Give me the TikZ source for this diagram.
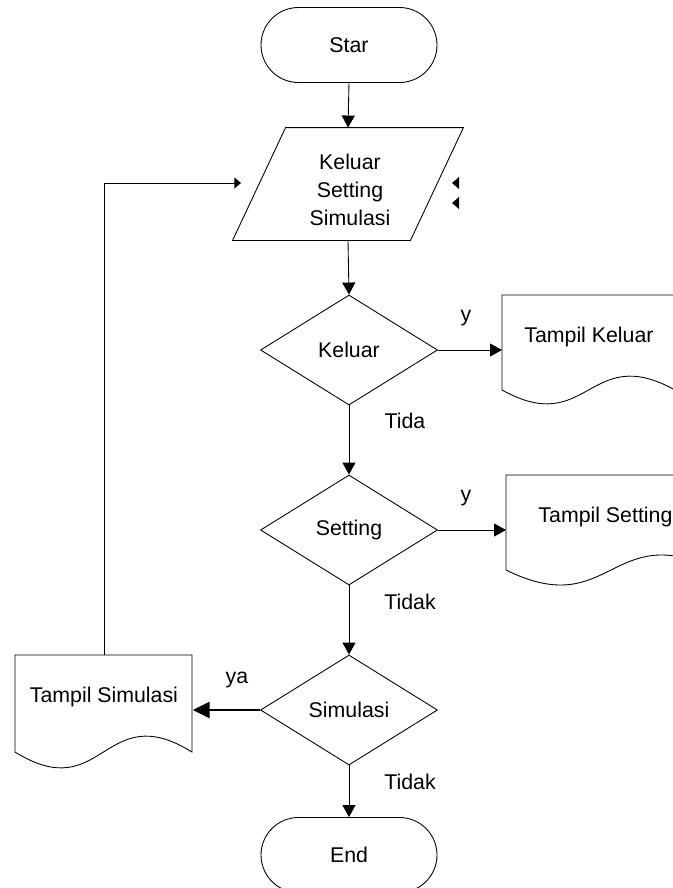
\documentclass[tikz,border=0pt]{standalone}
\usepackage{fontspec}
\setmainfont{Liberation Sans}
\usetikzlibrary{shapes.geometric,shapes.misc,arrows.meta}
\begin{document}
\begin{tikzpicture}[x=0.03cm,y=-0.03cm,
  font=\fontsize{18.2}{24}\selectfont,
  line width=0.75pt,
  terminal/.style={draw, rounded rectangle, minimum width=5.28cm, minimum height=2.25cm, inner sep=0pt},
  decision/.style={draw, diamond, minimum width=5.31cm, minimum height=3.3cm, inner sep=0pt},
  docbox/.style={inner sep=0pt, anchor=north west, minimum height=2.52cm},
  flow/.style={-{Triangle[length=0.36cm,width=0.39cm]}},
  thickflow/.style={line width=2pt, -{Triangle[length=0.5cm,width=0.48cm]}},
  smallflow/.style={-{Triangle[length=0.2cm,width=0.33cm]}},
  lbl/.style={inner sep=0pt}]
\useasboundingbox (0,0) rectangle (673,888);
\clip (0,0) rectangle (673,888);

% terminals
\node[terminal] (star) at (349,45) {Star};
\node[terminal] (end) at (349,855) {End};

% input / output parallelogram
\node[inner sep=0pt, minimum width=6.9cm, minimum height=3.36cm] (io) at (348,184) {};
\draw ([xshift=1.59cm]io.north west) -- (io.north east) -- ([xshift=-1.59cm]io.south east) -- (io.south west) -- cycle;
\node[lbl, align=center] (iot) at (350,190) {Keluar\\Setting\\Simulasi};

% decisions
\node[decision] (d1) at (349,350) {Keluar};
\node[decision] (d2) at (349,530) {Setting};
\node[decision] (d3) at (349,710) {Simulasi};

% documents
\node[docbox, minimum width=5.19cm] (tk) at (502,295) {Tampil Keluar};
\draw (502,295) -- (675,295) -- (675,390) .. controls (588.5,342) and (588.5,438) .. (502,390) -- cycle;
\node[docbox, minimum width=5.94cm] (tst) at (506,475) {Tampil Setting};
\draw (506,475) -- (716,475) -- (716,570) .. controls (611,518) and (611,622) .. (506,570) -- cycle;
\node[docbox, minimum width=5.31cm] (ts) at (15,655) {Tampil Simulasi};
\draw (15,655) -- (192,655) -- (192,752) .. controls (103.5,697) and (103.5,807) .. (15,752) -- cycle;

% connectors
\draw[flow] (star.south) -- (io.north);
\draw[flow] (io.south) -- (d1.north);
\draw[flow] (d1.south) -- (d2.north);
\draw[flow] (d2.south) -- (d3.north);
\draw[flow] (d3.south) -- (end.north);
\draw[flow] (d1.east) -- (d1.east -| tk.west);
\draw[flow] (d2.east) -- (d2.east -| tst.west);
\draw[thickflow] (d3.west) -- (d3.west -| ts.east);
\coordinate (fb) at (241,183);
\draw[smallflow] (ts.north) |- (fb);

% stray arrowheads
\fill (452,183) -- (459,177) -- (459,189) -- cycle;
\fill (452,203) -- (459,197) -- (459,209) -- cycle;

% labels
\node[lbl] (l1) at (466,318) {y};
\node[lbl] (l2) at (405,421) {Tida};
\node[lbl] (l3) at (466,498) {y};
\node[lbl] (l4) at (410,602) {Tidak};
\node[lbl] (l5) at (237,680) {ya};
\node[lbl] (l6) at (410,782) {Tidak};
\end{tikzpicture}
\end{document}
